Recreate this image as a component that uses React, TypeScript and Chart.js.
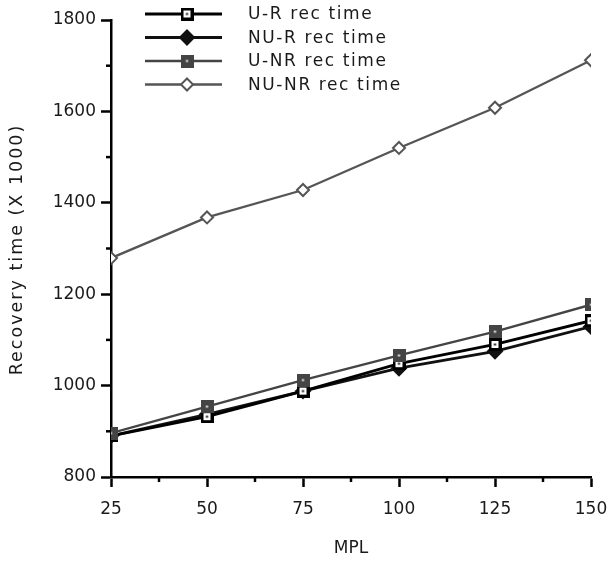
import React, { useEffect, useRef } from "react";
import { Chart, registerables } from "chart.js";

Chart.register(...registerables);

// Multiprogramming level on the x axis
const mpl = [25, 50, 75, 100, 125, 150];

// Recovery time (X 1000) per scheme
const urRec = [890, 932, 988, 1048, 1090, 1142];
const nurRec = [890, 937, 988, 1038, 1075, 1129];
const unrRec = [896, 954, 1012, 1066, 1118, 1177];
const nunrRec = [1279, 1368, 1428, 1520, 1608, 1712];

const seriesNames = ["U-R rec time", "NU-R rec time", "U-NR rec time", "NU-NR rec time"];

const yTicks = [800, 1000, 1200, 1400, 1600, 1800];
const xTicks = [25, 50, 75, 100, 125, 150];

const FONT = "'DejaVu Sans', sans-serif";
const TEXT = "#1a1a1a";

// Square marker with a small centre dot, drawn onto an offscreen canvas
function makeSquare(size: number, border: number, borderColor: string, fill: string, dot: string) {
  const c = document.createElement("canvas");
  c.width = size;
  c.height = size;
  const g = c.getContext("2d")!;
  g.fillStyle = borderColor;
  g.fillRect(0, 0, size, size);
  g.fillStyle = fill;
  g.fillRect(border, border, size - 2 * border, size - 2 * border);
  g.fillStyle = dot;
  const d = 2;
  g.fillRect(size / 2 - d / 2, size / 2 - d / 2, d, d);
  return c;
}

export default function App() {
  const ref = useRef<HTMLCanvasElement | null>(null);

  useEffect(() => {
    const canvas = ref.current;
    if (!canvas) return;

    const urMarker = makeSquare(13, 3, "#000", "#fff", "#000");
    const unrMarker = makeSquare(13, 5.5, "#444", "#444", "#fff");

    const toPts = (vals: number[]) => mpl.map((x, i) => ({ x, y: vals[i] }));

    const styles = [
      { color: "#000", width: 2.8, pointStyle: urMarker as any, radius: 6.5, fill: "#fff", order: 1 },
      { color: "#111", width: 2.8, pointStyle: "rectRot", radius: 7, fill: "#111", order: 2 },
      { color: "#444", width: 2.3, pointStyle: unrMarker as any, radius: 6.5, fill: "#444", order: 0 },
      { color: "#555", width: 2.3, pointStyle: "rectRot", radius: 6, fill: "#fff", order: 3 },
    ];
    const values = [urRec, nurRec, unrRec, nunrRec];

    const datasets = values.map((v, i) => ({
      label: seriesNames[i],
      data: toPts(v),
      borderColor: styles[i].color,
      borderWidth: styles[i].width,
      pointStyle: styles[i].pointStyle,
      pointRadius: styles[i].radius,
      pointBackgroundColor: styles[i].fill,
      pointBorderColor: styles[i].color,
      pointBorderWidth: 2,
      order: styles[i].order,
      tension: 0,
    }));

    // Minor ticks between the labelled ones, the wide y title and the line-and-marker legend
    const decorations = {
      id: "decorations",
      afterDraw(chart: any) {
        const ctx = chart.ctx as CanvasRenderingContext2D;
        const x = chart.scales.x;
        const y = chart.scales.y;
        const area = chart.chartArea;
        ctx.save();
        ctx.strokeStyle = "#000";
        ctx.lineWidth = 2.5;
        for (let i = 0; i < xTicks.length - 1; i++) {
          const px = x.getPixelForValue((xTicks[i] + xTicks[i + 1]) / 2);
          ctx.beginPath();
          ctx.moveTo(px, area.bottom);
          ctx.lineTo(px, area.bottom + 5);
          ctx.stroke();
        }
        for (let i = 0; i < yTicks.length - 1; i++) {
          const py = y.getPixelForValue((yTicks[i] + yTicks[i + 1]) / 2);
          ctx.beginPath();
          ctx.moveTo(area.left - 5, py);
          ctx.lineTo(area.left, py);
          ctx.stroke();
        }

        // y axis title
        ctx.save();
        ctx.translate(17, (area.top + area.bottom) / 2 + 1);
        ctx.rotate(-Math.PI / 2);
        ctx.fillStyle = TEXT;
        ctx.font = `17.5px ${FONT}`;
        (ctx as any).letterSpacing = "2px";
        ctx.textAlign = "center";
        ctx.textBaseline = "middle";
        ctx.fillText("Recovery time (X 1000)", 0, 0);
        ctx.restore();

        // legend
        const lx0 = 145;
        const lx1 = 222;
        const mx = 187;
        const tx = 248;
        const rowY = [14, 37.5, 61, 84.5];
        datasets.forEach((ds: any, i: number) => {
          const ry = rowY[i];
          ctx.strokeStyle = ds.borderColor;
          ctx.lineWidth = ds.borderWidth;
          ctx.beginPath();
          ctx.moveTo(lx0, ry);
          ctx.lineTo(lx1, ry);
          ctx.stroke();
          const ps = ds.pointStyle;
          if (typeof ps === "string") {
            const r = ds.pointRadius;
            ctx.beginPath();
            ctx.moveTo(mx, ry - r);
            ctx.lineTo(mx + r, ry);
            ctx.lineTo(mx, ry + r);
            ctx.lineTo(mx - r, ry);
            ctx.closePath();
            ctx.fillStyle = ds.pointBackgroundColor;
            ctx.fill();
            ctx.lineWidth = 2;
            ctx.strokeStyle = ds.pointBorderColor;
            ctx.stroke();
          } else {
            ctx.drawImage(ps, mx - ps.width / 2, ry - ps.height / 2);
          }
          ctx.fillStyle = TEXT;
          ctx.font = `17px ${FONT}`;
          (ctx as any).letterSpacing = "1.6px";
          ctx.textBaseline = "middle";
          ctx.textAlign = "left";
          ctx.fillText(ds.label, tx, ry + 1);
          (ctx as any).letterSpacing = "0px";
        });
        ctx.restore();
      },
    };

    const chart = new Chart(canvas, {
      type: "line",
      data: { datasets: datasets as any },
      options: {
        animation: false,
        responsive: false,
        devicePixelRatio: 1,
        layout: { padding: { top: 20, right: 20, left: 0, bottom: 0 } },
        plugins: {
          legend: { display: false },
          tooltip: { enabled: false },
        },
        scales: {
          x: {
            type: "linear",
            min: mpl[0],
            max: mpl[mpl.length - 1],
            afterBuildTicks: (s: any) => {
              s.ticks = xTicks.map((v) => ({ value: v }));
            },
            afterFit: (s: any) => {
              s.height = 85;
              s.paddingLeft = 0;
              s.paddingRight = 0;
            },
            border: { color: "#000", width: 2.5 },
            grid: { drawOnChartArea: false, drawTicks: true, tickLength: 10, tickWidth: 2.5, tickColor: "#000" },
            ticks: {
              color: TEXT,
              font: { family: FONT, size: 17 },
              padding: 12,
              maxRotation: 0,
              callback: (v: any) => String(v),
            },
            title: {
              display: true,
              text: "MPL",
              color: TEXT,
              font: { family: FONT, size: 17 },
              padding: { top: 0, bottom: 3 },
            },
          },
          y: {
            type: "linear",
            min: yTicks[0],
            max: yTicks[yTicks.length - 1],
            afterBuildTicks: (s: any) => {
              s.ticks = yTicks.map((v) => ({ value: v }));
            },
            afterFit: (s: any) => {
              s.width = 111;
              s.paddingTop = 0;
              s.paddingBottom = 0;
            },
            border: { color: "#000", width: 2.5 },
            grid: { drawOnChartArea: false, drawTicks: true, tickLength: 10, tickWidth: 2.5, tickColor: "#000" },
            ticks: {
              color: TEXT,
              font: { family: FONT, size: 17 },
              padding: 5,
              callback: (v: any) => String(v),
            },
            title: { display: false },
          },
        },
      },
      plugins: [decorations],
    });

    return () => chart.destroy();
  }, []);

  return (
    <div style={{ position: "fixed", left: 0, top: 0, width: 611, height: 562, background: "#fff" }}>
      <canvas ref={ref} width={611} height={562} style={{ display: "block", width: 611, height: 562 }} />
    </div>
  );
}
